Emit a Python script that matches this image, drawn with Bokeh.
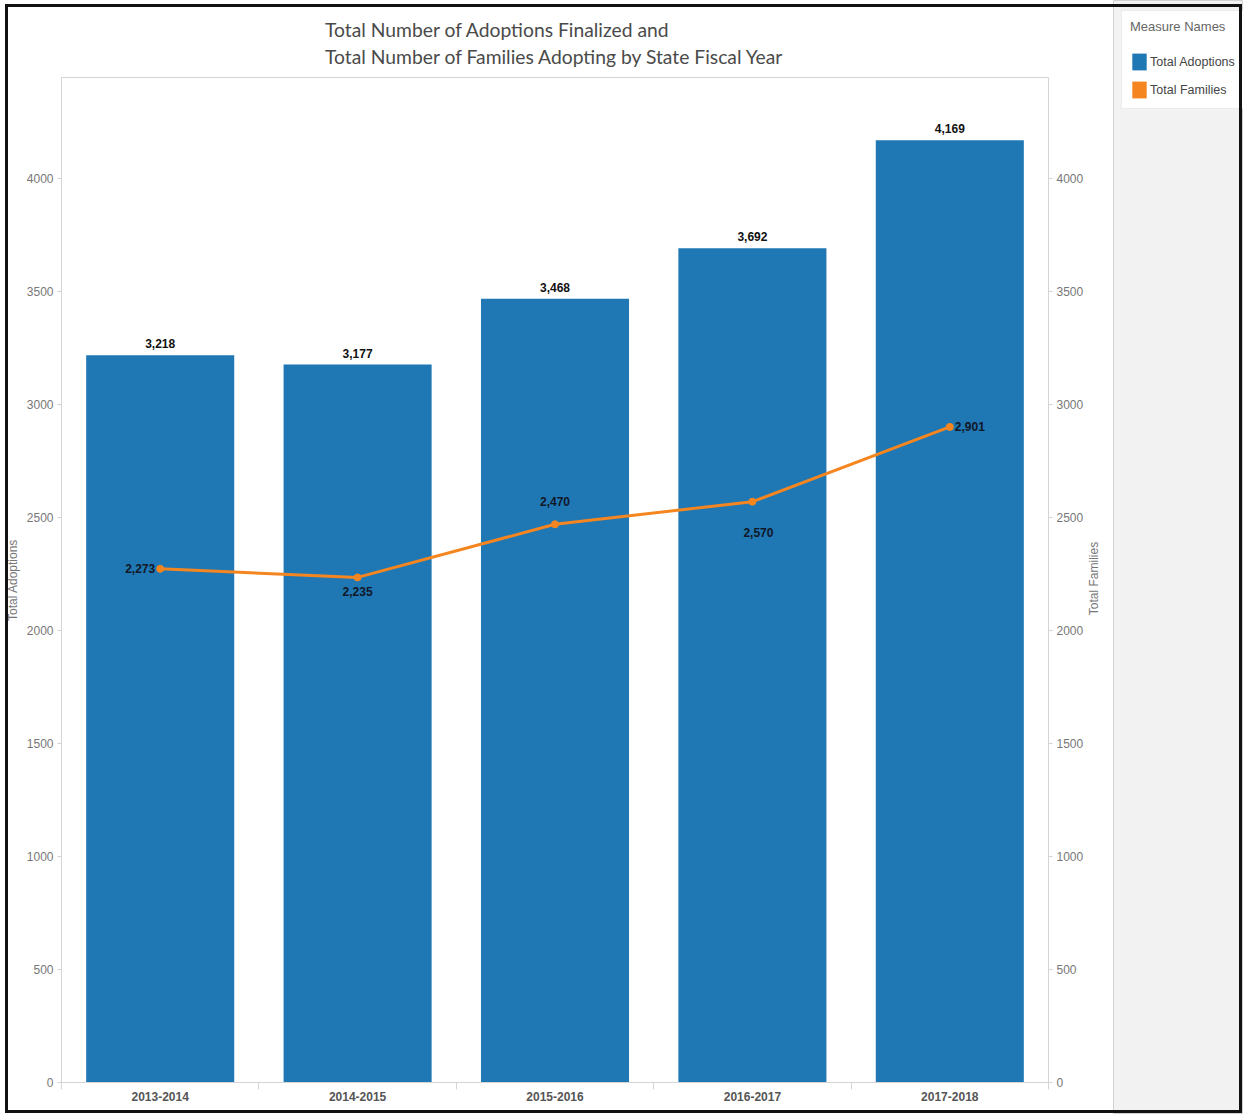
from bokeh.plotting import figure
from bokeh.models import (ColumnDataSource, Range1d, LinearAxis, FixedTicker,
                          Legend, LegendItem, LabelSet, Label, Div)
from bokeh.core.properties import value
from bokeh.embed import file_html
from bokeh.resources import INLINE
import math

# ---------------- data ----------------
years = ["2013-2014", "2014-2015", "2015-2016", "2016-2017", "2017-2018"]
total_adoptions = [3218, 3177, 3468, 3692, 4169]
total_families = [2273, 2235, 2470, 2570, 2901]
y_ticks = [0, 500, 1000, 1500, 2000, 2500, 3000, 3500, 4000]
title_lines = ["Total Number of Adoptions Finalized and",
               "Total Number of Families Adopting by State Fiscal Year"]
left_axis_title = "Total Adoptions"
right_axis_title = "Total Families"
legend_title = "Measure Names"
series_names = ["Total Adoptions", "Total Families"]

# ---------------- styles ----------------
BLUE = "#1f77b4"
ORANGE = "#f5861f"
AXIS_GRAY = "#d4d4d4"
TICK_TXT = "#777777"
FONT = "Liberation Sans"
Y_MAX = 4447
NAN = float("nan")

# label placement for the line labels (style only)
fam_align = ["right", "center", "center", "center", "left"]
fam_dx = [-5, 0, 0, 6, 5]
fam_dy = [0, 14, -23, 31, 0]

n = len(years)
xpos = [i + 0.5 for i in range(n)]

src = ColumnDataSource(dict(
    x=xpos, year=years, adopt=total_adoptions, fam=total_families,
    adopt_lbl=[f"{v:,}" for v in total_adoptions],
    fam_lbl=[f"{v:,}" for v in total_families],
    fam_align=fam_align, fam_dx=fam_dx, fam_dy=fam_dy,
))

W_MAIN, W_LEG, H = 1113, 130, 1114

p = figure(width=W_MAIN, height=H, x_range=Range1d(0, n), y_range=Range1d(0, Y_MAX),
           output_backend="svg", toolbar_location=None,
           min_border_left=61, min_border_right=65, min_border_top=77, min_border_bottom=32,
           background_fill_color="white", border_fill_color="white",
           outline_line_color=AXIS_GRAY)
p.xgrid.visible = False
p.ygrid.visible = False

# title
p.title.text = "\n".join(title_lines)
p.title.align = "center"
p.title.text_font = "Lato"
p.title.text_font_size = "19.3px"
p.title.text_font_style = "normal"
p.title.text_color = "#4a4a4a"
p.title.text_line_height = 1.18
p.title.standoff = 19

# x axis (categories at centres, boundary ticks as minor ticks)
xa = p.xaxis[0]
xa.ticker = FixedTicker(ticks=xpos, minor_ticks=list(range(n + 1)))
xa.major_label_overrides = {float(x): y for x, y in zip(xpos, years)}
xa.major_tick_out = 0
xa.major_tick_in = 0
xa.minor_tick_out = 7
xa.minor_tick_in = 0
xa.minor_tick_line_color = AXIS_GRAY
xa.axis_line_color = AXIS_GRAY
xa.major_label_standoff = 2
xa.major_label_text_font = FONT
xa.major_label_text_font_style = "bold"
xa.major_label_text_font_size = "12px"
xa.major_label_text_color = "#555555"


def style_y(ax):
    ax.ticker = FixedTicker(ticks=y_ticks)
    ax.axis_label_text_font = FONT
    ax.axis_label_text_font_style = "normal"
    ax.axis_label_text_font_size = "12px"
    ax.axis_label_text_color = TICK_TXT
    ax.axis_label_standoff = 4
    ax.major_label_text_font = FONT
    ax.major_label_text_font_size = "12px"
    ax.major_label_text_color = TICK_TXT
    ax.major_label_standoff = 4
    ax.major_tick_out = 4
    ax.major_tick_in = 0
    ax.minor_tick_out = 0
    ax.minor_tick_in = 0
    ax.major_tick_line_color = AXIS_GRAY
    ax.axis_line_color = AXIS_GRAY


style_y(p.yaxis[0])
p.yaxis[0].axis_label = left_axis_title
ry = LinearAxis()
style_y(ry)
p.add_layout(ry, "right")

# marks
bars = p.vbar(x="x", top="adopt", width=0.75, source=src, fill_color=BLUE, line_color=None)
ln = p.line(x="x", y="fam", source=src, line_color=ORANGE, line_width=3)
pts = p.scatter(x="x", y="fam", source=src, size=7, fill_color=ORANGE, line_color=ORANGE)

bar_lbls = LabelSet(x="x", y="adopt", text="adopt_lbl", source=src,
                    text_align="center", text_baseline="bottom", y_offset=7,
                    text_font=value(FONT), text_font_style="bold",
                    text_font_size="12px", text_color="#111111")
p.add_layout(bar_lbls)

p.text(x="x", y="fam", text="fam_lbl", source=src,
       x_offset="fam_dx", y_offset="fam_dy", text_align="fam_align",
       text_baseline="middle", text_font=value(FONT), text_font_style="bold",
       text_font_size="12px", text_color="#111827")

# ---------------- right axis title (small transparent canvas, reads bottom-to-top) ----------------
t = figure(width=24, height=120, x_range=Range1d(0, 1), y_range=Range1d(0, 1),
           output_backend="svg", toolbar_location=None, min_border=0,
           x_axis_location=None, y_axis_location=None, outline_line_color=None,
           background_fill_alpha=0, border_fill_alpha=0,
           styles={"position": "absolute", "left": "1081px", "top": "518px"})
t.grid.visible = False
t.add_layout(Label(x=0.5, y=0.5, text=right_axis_title, angle=math.pi / 2,
                   text_align="center", text_baseline="middle",
                   text_font=FONT, text_font_size="12px", text_color=TICK_TXT))

# ---------------- legend panel (separate canvas, placed at the right) ----------------
q = figure(width=W_LEG, height=H, x_range=Range1d(0, 1), y_range=Range1d(0, 1),
           output_backend="svg", toolbar_location=None, min_border=0,
           x_axis_location=None, y_axis_location=None,
           background_fill_color="#f2f2f2", border_fill_color="#f2f2f2",
           outline_line_color="#d2d2d2",
           styles={"position": "absolute", "left": f"{W_MAIN}px", "top": "0px"})
q.grid.visible = False
r1 = q.quad(left=[NAN], right=[NAN], top=[NAN], bottom=[NAN], fill_color=BLUE, line_color=None)
r2 = q.quad(left=[NAN], right=[NAN], top=[NAN], bottom=[NAN], fill_color=ORANGE, line_color=None)

leg = Legend(items=[LegendItem(label=series_names[0], renderers=[r1]),
                    LegendItem(label=series_names[1], renderers=[r2])],
             title=legend_title, location=(8, H - 109), margin=0,
             padding=8, spacing=7, glyph_width=18, glyph_height=21,
             label_height=21, label_standoff=2,
             label_text_font=FONT, label_text_font_size="12.5px", label_text_color="#444444",
             title_text_font=FONT, title_text_font_size="13px",
             title_text_color="#666666", title_text_font_style="normal",
             title_standoff=17,
             background_fill_color="white", background_fill_alpha=1.0,
             border_line_color="#d9d9d9")
q.add_layout(leg)

# thin black frame around the whole picture
frame = Div(text="", width=1237, height=1109, margin=0,
            styles={"position": "absolute", "left": "5px", "top": "4px",
                    "width": "1237px", "height": "1109px", "margin": "0px", "padding": "0px",
                    "border": "3px solid #111111", "box-sizing": "border-box",
                    "pointer-events": "none", "z-index": "10"})

open("out.html", "w").write(file_html([p, t, q, frame], INLINE))
